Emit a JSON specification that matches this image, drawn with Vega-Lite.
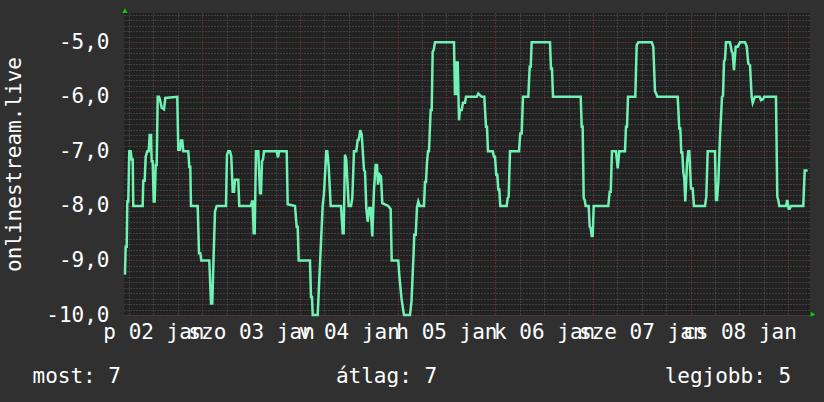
{
  "$schema": "https://vega.github.io/schema/vega-lite/v6.json",
  "width": 686,
  "height": 302,
  "autosize": "none",
  "padding": {"left": 124, "top": 13, "right": 14, "bottom": 87},
  "background": "#303030",
  "config": {
    "view": {"fill": "#222222", "stroke": null},
    "font": "DejaVu Sans Mono"
  },
  "resolve": {"axis": {"x": "independent", "y": "independent"}},
  "layer": [
    {
      "data": {
        "values": [
          {"hour": 5.01, "value": -9.26}, {"hour": 5.18, "value": -8.75}, {"hour": 5.43, "value": -8.75},
          {"hour": 5.58, "value": -7.92}, {"hour": 5.82, "value": -7.92}, {"hour": 6.07, "value": -7.0},
          {"hour": 6.41, "value": -7.0}, {"hour": 6.66, "value": -7.15}, {"hour": 6.91, "value": -7.15},
          {"hour": 7.05, "value": -8.0}, {"hour": 9.36, "value": -8.0}, {"hour": 9.51, "value": -7.54},
          {"hour": 9.85, "value": -7.54}, {"hour": 10.10, "value": -7.1}, {"hour": 10.49, "value": -7.0},
          {"hour": 10.84, "value": -7.0}, {"hour": 11.08, "value": -6.7}, {"hour": 11.40, "value": -6.7},
          {"hour": 11.57, "value": -7.18}, {"hour": 11.82, "value": -7.18}, {"hour": 12.07, "value": -7.92},
          {"hour": 12.31, "value": -7.92}, {"hour": 12.56, "value": -7.25}, {"hour": 12.80, "value": -7.25},
          {"hour": 13.05, "value": -6.0}, {"hour": 13.37, "value": -6.0}, {"hour": 13.61, "value": -6.05},
          {"hour": 14.03, "value": -6.2}, {"hour": 14.60, "value": -6.23}, {"hour": 14.92, "value": -6.02},
          {"hour": 17.86, "value": -6.0}, {"hour": 18.11, "value": -6.97}, {"hour": 18.53, "value": -6.97},
          {"hour": 18.77, "value": -6.8}, {"hour": 19.09, "value": -6.8}, {"hour": 19.34, "value": -7.0},
          {"hour": 20.57, "value": -7.0}, {"hour": 20.81, "value": -7.28}, {"hour": 21.06, "value": -7.28},
          {"hour": 21.23, "value": -8.0}, {"hour": 22.88, "value": -8.0}, {"hour": 23.20, "value": -8.87},
          {"hour": 23.52, "value": -8.87}, {"hour": 23.76, "value": -9.0}, {"hour": 25.73, "value": -9.0},
          {"hour": 26.15, "value": -9.79}, {"hour": 26.47, "value": -9.79}, {"hour": 26.71, "value": -9.12},
          {"hour": 27.13, "value": -8.1}, {"hour": 27.55, "value": -8.0}, {"hour": 29.83, "value": -8.0},
          {"hour": 30.08, "value": -7.06}, {"hour": 30.40, "value": -7.0}, {"hour": 30.81, "value": -7.0},
          {"hour": 31.13, "value": -7.09}, {"hour": 31.48, "value": -7.74}, {"hour": 31.80, "value": -7.74},
          {"hour": 32.04, "value": -7.52}, {"hour": 32.85, "value": -7.52}, {"hour": 33.10, "value": -8.0},
          {"hour": 35.97, "value": -8.0}, {"hour": 36.22, "value": -7.92}, {"hour": 36.39, "value": -7.92},
          {"hour": 36.64, "value": -8.5}, {"hour": 36.88, "value": -8.5}, {"hour": 37.20, "value": -7.0},
          {"hour": 37.77, "value": -7.0}, {"hour": 38.19, "value": -7.77}, {"hour": 38.43, "value": -7.77},
          {"hour": 38.68, "value": -7.18}, {"hour": 38.92, "value": -7.15}, {"hour": 39.17, "value": -7.0},
          {"hour": 42.29, "value": -7.0}, {"hour": 42.61, "value": -7.11}, {"hour": 42.86, "value": -7.0},
          {"hour": 44.75, "value": -7.0}, {"hour": 44.99, "value": -7.97}, {"hour": 46.79, "value": -8.0},
          {"hour": 47.20, "value": -8.38}, {"hour": 47.45, "value": -8.38}, {"hour": 47.70, "value": -9.0},
          {"hour": 50.47, "value": -9.0}, {"hour": 50.72, "value": -9.67}, {"hour": 50.96, "value": -9.67},
          {"hour": 51.14, "value": -10.0}, {"hour": 52.36, "value": -10.0}, {"hour": 52.51, "value": -9.76},
          {"hour": 53.18, "value": -8.66}, {"hour": 53.59, "value": -8.0}, {"hour": 53.91, "value": -7.77},
          {"hour": 54.48, "value": -7.0}, {"hour": 54.72, "value": -7.0}, {"hour": 55.07, "value": -7.28},
          {"hour": 55.56, "value": -8.0}, {"hour": 58.09, "value": -8.0}, {"hour": 58.51, "value": -8.5},
          {"hour": 58.75, "value": -8.5}, {"hour": 59.07, "value": -7.06}, {"hour": 59.39, "value": -7.15},
          {"hour": 59.98, "value": -8.0}, {"hour": 60.55, "value": -8.0}, {"hour": 60.87, "value": -7.86},
          {"hour": 61.28, "value": -7.0}, {"hour": 61.85, "value": -7.0}, {"hour": 62.19, "value": -6.79},
          {"hour": 62.44, "value": -6.79}, {"hour": 62.83, "value": -6.61}, {"hour": 63.18, "value": -6.69},
          {"hour": 63.74, "value": -7.34}, {"hour": 63.99, "value": -7.37}, {"hour": 64.31, "value": -8.04},
          {"hour": 64.65, "value": -8.29}, {"hour": 65.04, "value": -8.04}, {"hour": 65.39, "value": -8.04},
          {"hour": 65.78, "value": -8.56}, {"hour": 66.20, "value": -7.7}, {"hour": 66.62, "value": -7.25},
          {"hour": 66.94, "value": -7.25}, {"hour": 67.18, "value": -7.61}, {"hour": 67.60, "value": -7.43},
          {"hour": 67.92, "value": -7.46}, {"hour": 68.24, "value": -7.95}, {"hour": 69.71, "value": -8.0},
          {"hour": 70.30, "value": -8.06}, {"hour": 70.55, "value": -9.0}, {"hour": 72.17, "value": -9.0},
          {"hour": 72.42, "value": -9.27}, {"hour": 72.96, "value": -9.7}, {"hour": 73.57, "value": -10.0},
          {"hour": 75.05, "value": -10.0}, {"hour": 75.42, "value": -9.75}, {"hour": 75.91, "value": -8.9},
          {"hour": 76.10, "value": -8.53}, {"hour": 76.45, "value": -8.53}, {"hour": 76.77, "value": -8.02},
          {"hour": 77.09, "value": -7.92}, {"hour": 77.43, "value": -8.0}, {"hour": 78.49, "value": -8.0},
          {"hour": 78.73, "value": -7.56}, {"hour": 78.98, "value": -7.56}, {"hour": 79.22, "value": -7.21},
          {"hour": 79.47, "value": -7.0}, {"hour": 79.71, "value": -7.0}, {"hour": 80.13, "value": -6.24},
          {"hour": 80.38, "value": -6.24}, {"hour": 80.62, "value": -5.17}, {"hour": 80.87, "value": -5.14},
          {"hour": 81.19, "value": -5.0}, {"hour": 85.86, "value": -5.0}, {"hour": 86.10, "value": -5.97},
          {"hour": 86.28, "value": -5.35}, {"hour": 86.52, "value": -5.97}, {"hour": 86.77, "value": -5.35},
          {"hour": 87.09, "value": -6.43}, {"hour": 87.33, "value": -6.24}, {"hour": 87.75, "value": -6.24},
          {"hour": 88.07, "value": -6.11}, {"hour": 88.56, "value": -6.11}, {"hour": 88.81, "value": -6.0},
          {"hour": 91.44, "value": -6.0}, {"hour": 91.83, "value": -5.94}, {"hour": 92.66, "value": -6.0},
          {"hour": 93.31, "value": -6.0}, {"hour": 93.72, "value": -6.55}, {"hour": 93.97, "value": -6.55},
          {"hour": 94.21, "value": -7.0}, {"hour": 95.37, "value": -7.0}, {"hour": 95.69, "value": -7.1},
          {"hour": 95.93, "value": -7.1}, {"hour": 96.25, "value": -7.43}, {"hour": 96.50, "value": -7.43},
          {"hour": 96.74, "value": -7.7}, {"hour": 96.99, "value": -7.7}, {"hour": 97.24, "value": -8.0},
          {"hour": 98.81, "value": -8.0}, {"hour": 99.05, "value": -7.86}, {"hour": 99.30, "value": -7.83},
          {"hour": 99.62, "value": -7.0}, {"hour": 101.83, "value": -7.0}, {"hour": 102.15, "value": -6.67},
          {"hour": 102.49, "value": -6.67}, {"hour": 102.81, "value": -6.0}, {"hour": 104.12, "value": -6.0},
          {"hour": 104.46, "value": -5.45}, {"hour": 104.71, "value": -5.45}, {"hour": 104.95, "value": -5.0},
          {"hour": 109.45, "value": -5.0}, {"hour": 109.69, "value": -5.48}, {"hour": 109.94, "value": -5.48},
          {"hour": 110.19, "value": -6.0}, {"hour": 116.99, "value": -6.0}, {"hour": 117.24, "value": -6.55},
          {"hour": 117.48, "value": -6.55}, {"hour": 117.73, "value": -7.86}, {"hour": 117.97, "value": -7.89},
          {"hour": 118.22, "value": -8.0}, {"hour": 118.96, "value": -8.0}, {"hour": 119.20, "value": -8.38},
          {"hour": 119.45, "value": -8.41}, {"hour": 119.70, "value": -8.55}, {"hour": 119.94, "value": -8.55},
          {"hour": 120.19, "value": -8.0}, {"hour": 123.77, "value": -8.0}, {"hour": 124.12, "value": -7.74},
          {"hour": 124.37, "value": -7.74}, {"hour": 124.68, "value": -7.0}, {"hour": 125.67, "value": -7.0},
          {"hour": 126.09, "value": -7.31}, {"hour": 126.48, "value": -7.0}, {"hour": 127.88, "value": -7.0},
          {"hour": 128.12, "value": -6.55}, {"hour": 128.37, "value": -6.55}, {"hour": 128.62, "value": -6.0},
          {"hour": 130.41, "value": -6.0}, {"hour": 130.75, "value": -5.05}, {"hour": 131.15, "value": -5.0},
          {"hour": 134.44, "value": -5.0}, {"hour": 134.83, "value": -5.08}, {"hour": 135.25, "value": -5.9},
          {"hour": 135.50, "value": -5.93}, {"hour": 135.82, "value": -6.0}, {"hour": 140.83, "value": -6.0},
          {"hour": 141.22, "value": -6.58}, {"hour": 141.47, "value": -6.58}, {"hour": 141.71, "value": -7.02},
          {"hour": 141.96, "value": -7.02}, {"hour": 142.20, "value": -7.37}, {"hour": 142.45, "value": -7.5},
          {"hour": 142.70, "value": -7.92}, {"hour": 143.11, "value": -7.22}, {"hour": 143.43, "value": -7.0},
          {"hour": 143.68, "value": -7.0}, {"hour": 144.10, "value": -7.68}, {"hour": 144.51, "value": -7.68},
          {"hour": 144.83, "value": -8.0}, {"hour": 147.54, "value": -8.0}, {"hour": 147.86, "value": -7.83},
          {"hour": 148.20, "value": -7.0}, {"hour": 149.99, "value": -7.0}, {"hour": 150.24, "value": -7.89},
          {"hour": 150.49, "value": -7.89}, {"hour": 150.81, "value": -7.56}, {"hour": 151.22, "value": -6.73},
          {"hour": 151.72, "value": -6.0}, {"hour": 151.96, "value": -5.98}, {"hour": 152.21, "value": -5.35},
          {"hour": 152.45, "value": -5.32}, {"hour": 152.70, "value": -5.0}, {"hour": 153.68, "value": -5.0},
          {"hour": 154.10, "value": -5.17}, {"hour": 154.34, "value": -5.2}, {"hour": 154.66, "value": -5.51},
          {"hour": 155.08, "value": -5.08}, {"hour": 155.57, "value": -5.08}, {"hour": 156.14, "value": -5.0},
          {"hour": 157.37, "value": -5.0}, {"hour": 157.78, "value": -5.07}, {"hour": 158.18, "value": -5.39},
          {"hour": 158.60, "value": -5.42}, {"hour": 159.01, "value": -6.0}, {"hour": 159.26, "value": -6.11},
          {"hour": 159.50, "value": -6.06}, {"hour": 159.82, "value": -6.0}, {"hour": 160.98, "value": -6.0},
          {"hour": 161.30, "value": -6.06}, {"hour": 161.72, "value": -6.05}, {"hour": 162.11, "value": -6.0},
          {"hour": 164.98, "value": -6.0}, {"hour": 165.30, "value": -7.83}, {"hour": 165.55, "value": -7.89},
          {"hour": 165.79, "value": -8.0}, {"hour": 167.44, "value": -8.0}, {"hour": 167.76, "value": -7.89},
          {"hour": 168.10, "value": -8.05}, {"hour": 168.35, "value": -8.05}, {"hour": 168.67, "value": -8.0},
          {"hour": 171.69, "value": -8.0}, {"hour": 172.03, "value": -7.35}, {"hour": 172.77, "value": -7.35}
        ]
      },
      "mark": {"type": "line", "color": "#6ff2b4", "strokeWidth": 2.5},
      "encoding": {
        "x": {
          "field": "hour",
          "type": "quantitative",
          "scale": {"domain": [4.77, 173.34], "nice": false, "zero": false},
          "axis": {
            "values": [6, 12, 18, 24, 30, 36, 42, 48, 54, 60, 66, 72, 78, 84, 90, 96, 102, 108, 114, 120, 126, 132, 138, 144, 150, 156, 162, 168],
            "title": "most: 7\u00a0\u00a0\u00a0\u00a0\u00a0\u00a0\u00a0\u00a0\u00a0\u00a0\u00a0\u00a0\u00a0\u00a0\u00a0\u00a0\u00a0átlag: 7\u00a0\u00a0\u00a0\u00a0\u00a0\u00a0\u00a0\u00a0\u00a0\u00a0\u00a0\u00a0\u00a0\u00a0\u00a0\u00a0\u00a0\u00a0legjobb: 5",
            "titleX": -92,
            "titleY": 67,
            "titleAlign": "left",
            "titleAnchor": "start",
            "titleBaseline": "alphabetic",
            "titleFont": "DejaVu Sans Mono",
            "titleFontSize": 21,
            "titleFontWeight": "normal",
            "titleColor": "#ffffff",
            "domain": false,
            "ticks": false,
            "tickSize": 0,
            "labelPadding": 23,
            "labelBaseline": "alphabetic",
            "labelFont": "DejaVu Sans Mono",
            "labelFontSize": 21,
            "labelColor": "#ffffff",
            "labelOverlap": false,
            "labelBound": false,
            "labelFlush": false,
            "labelExpr": "datum.value % 24 === 12 ? ['p 02 jan','szo 03 jan','v 04 jan','h 05 jan','k 06 jan','sze 07 jan','cs 08 jan'][(datum.value - 12) / 24] : ''",
            "grid": true,
            "gridColor": {"condition": {"test": "datum.value % 24 === 0", "value": "#8e3a3a"}, "value": "#5a5a5a"},
            "gridDash": [1, 2],
            "gridWidth": 1
          }
        },
        "y": {
          "field": "value",
          "type": "quantitative",
          "scale": {"domain": [-10, -4.463], "nice": false, "zero": false},
          "axis": {
            "tickCount": 55,
            "title": "onlinestream.live",
            "titleFont": "DejaVu Sans Mono",
            "titleFontSize": 21,
            "titleFontWeight": "normal",
            "titleColor": "#ffffff",
            "titleAngle": 270,
            "titleX": -103.5,
            "titleBaseline": "alphabetic",
            "domain": false,
            "ticks": false,
            "tickSize": 0,
            "labelPadding": 15,
            "labelFont": "DejaVu Sans Mono",
            "labelFontSize": 21,
            "labelColor": "#ffffff",
            "labelBaseline": "middle",
            "labelOverlap": false,
            "labelBound": false,
            "labelFlush": false,
            "labelExpr": "datum.value % 1 === 0 ? '-' + abs(datum.value) + ',0' : ''",
            "grid": true,
            "gridColor": {"condition": {"test": "datum.value % 1 === 0", "value": "#8e3a3a"}, "value": "#5a5a5a"},
            "gridDash": [1, 2],
            "gridWidth": 1
          }
        }
      }
    },
    {
      "data": {"values": [{}]},
      "mark": {"type": "point", "shape": "triangle-up", "filled": true, "color": "#00d000", "opacity": 1, "size": 28},
      "encoding": {
        "x": {"datum": 5.0, "type": "quantitative", "axis": null},
        "y": {"datum": -4.42, "type": "quantitative", "axis": null}
      }
    },
    {
      "data": {"values": [{}]},
      "mark": {"type": "point", "shape": "triangle-right", "filled": true, "color": "#00d000", "opacity": 1, "size": 28},
      "encoding": {
        "x": {"datum": 174.07, "type": "quantitative", "axis": null},
        "y": {"datum": -9.99, "type": "quantitative", "axis": null}
      }
    }
  ]
}
